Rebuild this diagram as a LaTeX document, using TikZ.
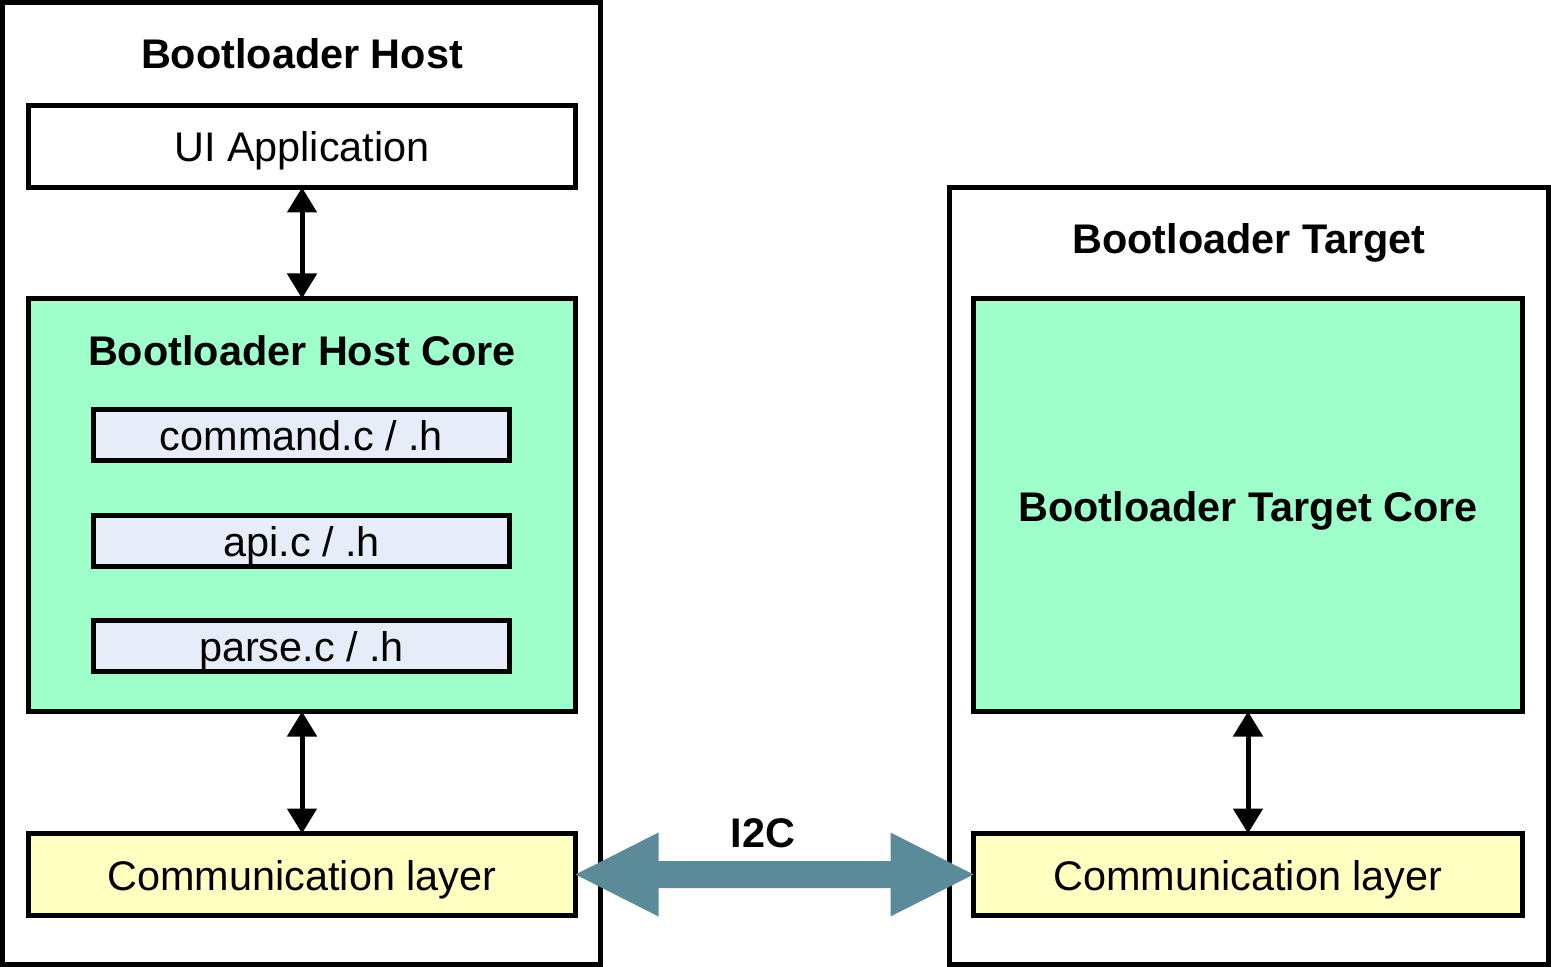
\documentclass[tikz,border=0pt]{standalone}
\usepackage{fontspec}
\setmainfont{Liberation Sans}
\usetikzlibrary{arrows.meta,calc}
\definecolor{coregreen}{RGB}{158,255,202}
\definecolor{commyellow}{RGB}{255,255,194}
\definecolor{filebl}{RGB}{230,237,248}
\definecolor{linkcol}{RGB}{91,139,153}
\begin{document}
\begin{tikzpicture}[x=0.5pt,y=-0.5pt,
  frame/.style={draw,line width=2.5pt,outer sep=0pt,inner sep=0pt},
  bigbox/.style={frame,minimum width=273.5pt,minimum height=41pt},
  corebox/.style={frame,fill=coregreen,minimum width=273.5pt,minimum height=206.5pt},
  commbox/.style={frame,fill=commyellow,minimum width=273.5pt,minimum height=41pt},
  filebox/.style={frame,fill=filebl,minimum width=208pt,minimum height=25.5pt},
  txt/.style={anchor=base,inner sep=0pt,font=\fontsize{20.7}{24}\selectfont},
  btxt/.style={anchor=base,inner sep=0pt,font=\fontsize{20.7}{24}\selectfont\bfseries},
  arr/.style={line width=2.5pt,{Triangle[length=12.5pt,width=14.5pt]}-{Triangle[length=12.5pt,width=14.5pt]}},
  i2c/.style={fill=linkcol}]
\useasboundingbox (0,0) rectangle (1551,967);
% outer frames
\node[frame,anchor=north west,minimum width=299pt,minimum height=481pt] (host) at (2.5,2.5) {};
\node[frame,anchor=north west,minimum width=299.5pt,minimum height=388.5pt] (target) at (949.5,187.5) {};
% host side
\node[btxt] (hosttitle) at (302,69) {Bootloader Host};
\node[bigbox] (ui) at (302,146.5) {};
\node[txt] (uitxt) at (302,162) {UI Application};
\node[corebox] (hcore) at (302,505) {};
\node[btxt] (hcoretxt) at (302,366) {Bootloader Host Core};
\node[filebox] (cmd) at (301.5,435.5) {};
\node[txt] (cmdtxt) at (301.5,451) {command.c / .h};
\node[filebox] (api) at (301.5,541) {};
\node[txt] (apitxt) at (301.5,556) {api.c / .h};
\node[filebox] (parse) at (301.5,646) {};
\node[txt] (parsetxt) at (301.5,661) {parse.c / .h};
\node[commbox] (hcomm) at (302,874.5) {};
\node[txt] (hcommtxt) at (302,890) {Communication layer};
\draw[arr] (ui) -- (hcore);
\draw[arr] (hcore) -- (hcomm);
% target side
\node[btxt] (targettitle) at (1249,254) {Bootloader Target};
\node[corebox,minimum width=274.5pt] (tcore) at (1248,505) {};
\node[btxt] (tcoretxt) at (1248,521) {Bootloader Target Core};
\node[commbox,minimum width=274.5pt] (tcomm) at (1248,874.5) {};
\node[txt] (tcommtxt) at (1248,890) {Communication layer};
\draw[arr] (tcore) -- (tcomm);
% I2C link
\fill[i2c] (hcomm.east) -- ($(hcomm.east)+(83,-42)$) -- ($(hcomm.east)+(83,-13.5)$)
  -- ($(tcomm.west)+(-83,-13.5)$) -- ($(tcomm.west)+(-83,-42)$) -- (tcomm.west)
  -- ($(tcomm.west)+(-83,42)$) -- ($(tcomm.west)+(-83,13.5)$)
  -- ($(hcomm.east)+(83,13.5)$) -- ($(hcomm.east)+(83,42)$) -- cycle;
\node[btxt] (i2clabel) at (763,847) {I2C};
\end{tikzpicture}
\end{document}
